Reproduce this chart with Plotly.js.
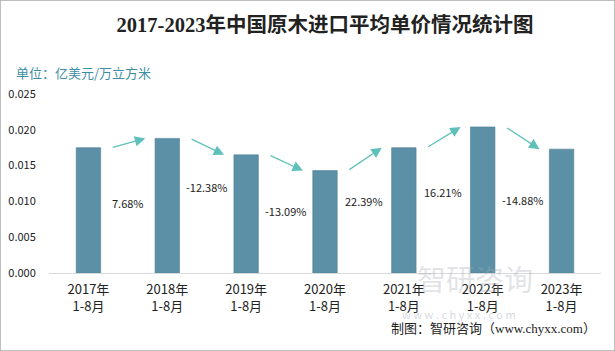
<!DOCTYPE html>
<html>
<head>
<meta charset="utf-8">
<script src="https://cdn.plot.ly/plotly-3.0.1.min.js"></script>
<style>html,body{margin:0;padding:0;background:#fff;}#chart{width:615px;height:351px;}</style>
</head>
<body>
<div id="chart"></div>
<script>
var categories = ["2017年<br>1-8月","2018年<br>1-8月","2019年<br>1-8月","2020年<br>1-8月","2021年<br>1-8月","2022年<br>1-8月","2023年<br>1-8月"];
var prices = [0.0175, 0.0188, 0.0165, 0.0143, 0.0175, 0.0204, 0.0173];
var growthLabels = ["7.68%","-12.38%","-13.09%","22.39%","16.21%","-14.88%"];
var growthLabelY = [0.0098, 0.0120, 0.0087, 0.0101, 0.0113, 0.0102];

var FONT = "Microsoft YaHei, 'Noto Sans CJK SC', sans-serif";
var annotations = [];
for (var i = 0; i < prices.length - 1; i++) {
  annotations.push({
    x: i + 0.72, y: prices[i + 1], ax: i + 0.29, ay: prices[i],
    xref: 'x', yref: 'y', axref: 'x', ayref: 'y',
    showarrow: true, arrowhead: 2, arrowsize: 1.6, arrowwidth: 1.3,
    arrowcolor: '#5FC0BA', text: ''
  });
  annotations.push({
    x: i + 0.5, y: growthLabelY[i], xref: 'x', yref: 'y',
    text: growthLabels[i], showarrow: false,
    font: {family: FONT, size: 11, color: '#222'}
  });
}
var px = [];
px.push({
  x: 14, y: 72, xanchor: 'left', yanchor: 'middle',
  text: '单位：亿美元/万立方米',
  font: {family: FONT, size: 13, color: '#3E8EA3'}
});
px.push({
  x: 535, y: 301, text: '智研咨询',
  font: {family: FONT, size: 29, color: 'rgba(160,168,178,0.33)'}
});
px.push({
  x: 518, y: 324, text: 'w w w . c h y x x . c o m',
  font: {family: FONT, size: 11, color: 'rgba(160,168,178,0.45)'}
});
px.push({
  x: 598, y: 338, xanchor: 'right', text: '制图：智研咨询（www.chyxx.com）',
  font: {family: "'Liberation Serif', 'Noto Sans CJK SC', serif", size: 13, color: '#222'}
});
px.forEach(function(a){
  a.xref = 'paper'; a.yref = 'paper'; a.showarrow = false;
  a.x = (a.x - 49) / (615 - 49 - 14);
  a.y = (351 - 78 - a.y) / (351 - 94 - 78);
  annotations.push(a);
});

var data = [{
  type: 'bar', x: categories, y: prices,
  marker: {color: '#5C90A7', line: {color: '#4F7F95', width: 0.6}},
  width: 0.31, hoverinfo: 'none'
}];

var layout = {
  width: 615, height: 351,
  margin: {l: 49, r: 14, t: 94, b: 78},
  paper_bgcolor: '#fff', plot_bgcolor: '#fff',
  showlegend: false,
  title: {
    text: '2017-2023年中国原木进口平均单价情况统计图',
    x: 0.5, xref: 'paper', y: 1 - 25/351, yanchor: 'middle',
    font: {family: "'Liberation Serif', 'Noto Sans CJK SC', serif", size: 20.5, color: '#222', weight: 'bold'}
  },
  xaxis: {
    type: 'category', showgrid: false, zeroline: false,
    showline: true, linecolor: '#d9d9d9', linewidth: 1,
    ticks: '', ticklabelstandoff: 4,
    tickfont: {family: FONT, size: 13, color: '#222'},
    range: [-0.5, 6.5], fixedrange: true
  },
  yaxis: {
    range: [0, 0.025], dtick: 0.005, tickformat: '.3f',
    showgrid: false, zeroline: false, showline: false,
    ticks: 'outside', ticklen: 10, tickcolor: 'rgba(0,0,0,0)',
    tickfont: {family: FONT, size: 11, color: '#222'}, fixedrange: true
  },
  shapes: [{
    type: 'rect', xref: 'paper', yref: 'paper',
    x0: -49/552, x1: 1 + 14/552, y0: -78/179, y1: 1 + 94/179,
    line: {color: '#aaaaaa', width: 1.5}, fillcolor: 'rgba(0,0,0,0)'
  }],
  annotations: annotations
};

Plotly.newPlot('chart', data, layout, {staticPlot: true, displayModeBar: false});
</script>
</body>
</html>
